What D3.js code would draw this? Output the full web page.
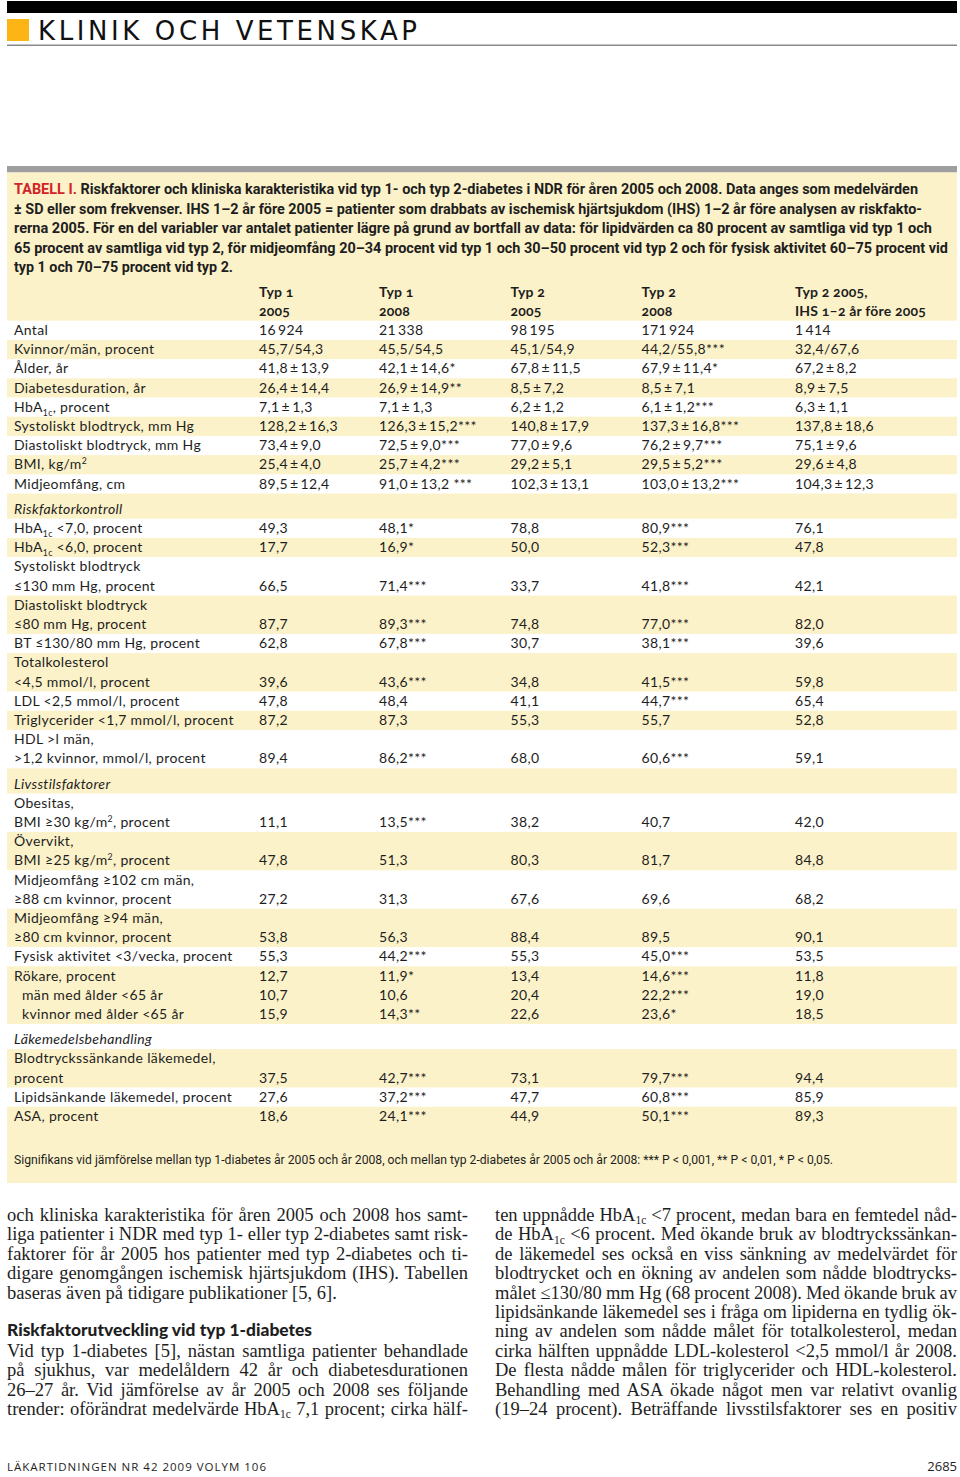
<!DOCTYPE html>
<html><head><meta charset="utf-8">
<script src="https://cdn.jsdelivr.net/npm/d3@7"></script>
<style>body{margin:0;background:#fff} svg{display:block}</style>
</head><body>
<svg id="page" width="960" height="1477"></svg>
<script>
// ---------------- DATA ----------------
const pageTitle = "KLINIK OCH VETENSKAP";
const captionLines = [
  "Riskfaktorer och kliniska karakteristika vid typ 1- och typ 2-diabetes i NDR för åren 2005 och 2008. Data anges som medelvärden",
  "± SD eller som frekvenser. IHS 1–2 år före 2005 = patienter som drabbats av ischemisk hjärtsjukdom (IHS) 1–2 år före analysen av riskfakto-",
  "rerna 2005. För en del variabler var antalet patienter lägre på grund av bortfall av data: för lipidvärden ca 80 procent av samtliga vid typ 1 och",
  "65 procent av samtliga vid typ 2, för midjeomfång 20–34 procent vid typ 1 och 30–50 procent vid typ 2 och för fysisk aktivitet 60–75 procent vid",
  "typ 1 och 70–75 procent vid typ 2."
];
const captionTag = "TABELL I.";
const colHeads = [["Typ 1","2005"],["Typ 1","2008"],["Typ 2","2005"],["Typ 2","2008"],["Typ 2 2005,","IHS 1–2 år före 2005"]];
const T = "\u2009±\u2009";
const rowLabels = [
  "Antal","Kvinnor/män, procent","Ålder, år","Diabetesduration, år","HbA_{1c}, procent",
  "Systoliskt blodtryck, mm Hg","Diastoliskt blodtryck, mm Hg","BMI, kg/m^{2}","Midjeomfång, cm",
  "Riskfaktorkontroll",
  "HbA_{1c} <7,0, procent","HbA_{1c} <6,0, procent","Systoliskt blodtryck\n≤130 mm Hg, procent",
  "Diastoliskt blodtryck\n≤80 mm Hg, procent","BT ≤130/80 mm Hg, procent","Totalkolesterol\n<4,5 mmol/l, procent",
  "LDL <2,5 mmol/l, procent","Triglycerider <1,7 mmol/l, procent","HDL >l män,\n>1,2 kvinnor, mmol/l, procent",
  "Livsstilsfaktorer",
  "Obesitas,\nBMI ≥30 kg/m^{2}, procent","Övervikt,\nBMI ≥25 kg/m^{2}, procent","Midjeomfång ≥102 cm män,\n≥88 cm kvinnor, procent",
  "Midjeomfång ≥94 män,\n≥80 cm kvinnor, procent","Fysisk aktivitet <3/vecka, procent","Rökare, procent",
  "  män med ålder <65 år","  kvinnor med ålder <65 år",
  "Läkemedelsbehandling",
  "Blodtryckssänkande läkemedel,\nprocent","Lipidsänkande läkemedel, procent","ASA, procent"
];
const typ1_2005 = ["16\u2009924","45,7/54,3","41,8"+T+"13,9","26,4"+T+"14,4","7,1"+T+"1,3","128,2"+T+"16,3","73,4"+T+"9,0","25,4"+T+"4,0","89,5"+T+"12,4",
  null,"49,3","17,7","66,5","87,7","62,8","39,6","47,8","87,2","89,4",
  null,"11,1","47,8","27,2","53,8","55,3","12,7","10,7","15,9",
  null,"37,5","27,6","18,6"];
const typ1_2008 = ["21\u2009338","45,5/54,5","42,1"+T+"14,6*","26,9"+T+"14,9**","7,1"+T+"1,3","126,3"+T+"15,2***","72,5"+T+"9,0***","25,7"+T+"4,2***","91,0"+T+"13,2 ***",
  null,"48,1*","16,9*","71,4***","89,3***","67,8***","43,6***","48,4","87,3","86,2***",
  null,"13,5***","51,3","31,3","56,3","44,2***","11,9*","10,6","14,3**",
  null,"42,7***","37,2***","24,1***"];
const typ2_2005 = ["98\u2009195","45,1/54,9","67,8"+T+"11,5","8,5"+T+"7,2","6,2"+T+"1,2","140,8"+T+"17,9","77,0"+T+"9,6","29,2"+T+"5,1","102,3"+T+"13,1",
  null,"78,8","50,0","33,7","74,8","30,7","34,8","41,1","55,3","68,0",
  null,"38,2","80,3","67,6","88,4","55,3","13,4","20,4","22,6",
  null,"73,1","47,7","44,9"];
const typ2_2008 = ["171\u2009924","44,2/55,8***","67,9"+T+"11,4*","8,5"+T+"7,1","6,1"+T+"1,2***","137,3"+T+"16,8***","76,2"+T+"9,7***","29,5"+T+"5,2***","103,0"+T+"13,2***",
  null,"80,9***","52,3***","41,8***","77,0***","38,1***","41,5***","44,7***","55,7","60,6***",
  null,"40,7","81,7","69,6","89,5","45,0***","14,6***","22,2***","23,6*",
  null,"79,7***","60,8***","50,1***"];
const ihs2005 = ["1\u2009414","32,4/67,6","67,2"+T+"8,2","8,9"+T+"7,5","6,3"+T+"1,1","137,8"+T+"18,6","75,1"+T+"9,6","29,6"+T+"4,8","104,3"+T+"12,3",
  null,"76,1","47,8","42,1","82,0","39,6","59,8","65,4","52,8","59,1",
  null,"42,0","84,8","68,2","90,1","53,5","11,8","19,0","18,5",
  null,"94,4","85,9","89,3"];
const footnote = "Signifikans vid jämförelse mellan typ 1-diabetes år 2005 och år 2008, och mellan typ 2-diabetes år 2005 och år 2008: *** P < 0,001, ** P < 0,01, * P < 0,05.";
const bodyLeft = [
  "och kliniska karakteristika för åren 2005 och 2008 hos samt-",
  "liga patienter i NDR med typ 1- eller typ 2-diabetes samt risk-",
  "faktorer för år 2005 hos patienter med typ 2-diabetes och ti-",
  "digare genomgången ischemisk hjärtsjukdom (IHS). Tabellen",
  "baseras även på tidigare publikationer [5, 6].",
  "",
  "",
  "Vid typ 1-diabetes [5], nästan samtliga patienter behandlade",
  "på sjukhus, var medelåldern 42 år och diabetesdurationen",
  "26–27 år. Vid jämförelse av år 2005 och 2008 ses följande",
  "trender: oförändrat medelvärde HbA_{1c} 7,1 procent; cirka hälf-"
];
const bodyHeading = "Riskfaktorutveckling vid typ 1-diabetes";
const bodyRight = [
  "ten uppnådde HbA_{1c} <7 procent, medan bara en femtedel nåd-",
  "de HbA_{1c} <6 procent. Med ökande bruk av blodtryckssänkan-",
  "de läkemedel ses också en viss sänkning av medelvärdet för",
  "blodtrycket och en ökning av andelen som nådde blodtrycks-",
  "målet ≤130/80 mm Hg (68 procent 2008). Med ökande bruk av",
  "lipidsänkande läkemedel ses i fråga om lipiderna en tydlig ök-",
  "ning av andelen som nådde målet för totalkolesterol, medan",
  "cirka hälften uppnådde LDL-kolesterol <2,5 mmol/l år 2008.",
  "De flesta nådde målen för triglycerider och HDL-kolesterol.",
  "Behandling med ASA ökade något men var relativt ovanlig",
  "(19–24 procent). Beträffande livsstilsfaktorer ses en positiv"
];
const footerLeft = "LÄKARTIDNINGEN NR 42 2009 VOLYM 106";
const footerRight = "2685";

// ---------------- DRAW ----------------
const svg = d3.select("#page");
const L = 7, R = 957;
const YEL = "#FCF2C9", INK = "#1e1e1e";
const SANS = "Lato, 'Open Sans', sans-serif";

function rich(sel, str, size, subShift) {
  const re = /([_^])\{([^}]*)\}/g;
  let last = 0, m, shift = 0;
  const parts = [];
  while ((m = re.exec(str))) {
    if (m.index > last) parts.push({t: str.slice(last, m.index), k: ""});
    parts.push({t: m[2], k: m[1]});
    last = re.lastIndex;
  }
  if (last < str.length) parts.push({t: str.slice(last), k: ""});
  parts.forEach(p => {
    const ts = sel.append("tspan").text(p.t);
    const target = p.k === "_" ? size * (subShift || 0.3) : p.k === "^" ? -size * 0.38 : 0;
    if (target !== shift) { ts.attr("dy", target - shift); shift = target; }
    if (p.k) ts.attr("font-size", size * 0.62);
  });
  return sel;
}

// masthead
svg.append("rect").attr("x", L).attr("y", 1).attr("width", R - L).attr("height", 12).attr("fill", "#000");
svg.append("rect").attr("x", 7).attr("y", 19).attr("width", 22).attr("height", 22).attr("fill", "#FDB515");
svg.append("text").attr("x", 38).attr("y", 40)
  .attr("font-family", "'DejaVu Sans', sans-serif").attr("font-size", 26).attr("fill", "#111")
  .attr("textLength", 379).attr("lengthAdjust", "spacing").text(pageTitle);
svg.append("rect").attr("x", L).attr("y", 44.5).attr("width", R - L).attr("height", 1.5).attr("fill", "#8a8a8a");

// table box
svg.append("rect").attr("x", L).attr("y", 166).attr("width", R - L).attr("height", 6.5).attr("fill", "#9e9e9e");
svg.append("rect").attr("x", L).attr("y", 172.5).attr("width", R - L).attr("height", 1183 - 172.5).attr("fill", YEL);

// caption
const capWidths = [904, 908, 918, 934, 219];
captionLines.forEach((line, i) => {
  const t = svg.append("text").attr("x", 14).attr("y", 194 + i * 19.5)
    .attr("font-family", "Roboto, sans-serif").attr("font-weight", 700).attr("font-size", 14.5)
    .attr("fill", INK).attr("textLength", capWidths[i]).attr("lengthAdjust", "spacingAndGlyphs");
  if (i === 0) {
    t.append("tspan").attr("fill", "#D2232A").text(captionTag + " ");
    t.append("tspan").text(line);
  } else t.text(line);
});

// rows layout
const LH = 19.2, SECT = 6;
const cols = [typ1_2005, typ1_2008, typ2_2005, typ2_2008, ihs2005];
const colKeys = ["t1_05", "t1_08", "t2_05", "t2_08", "ihs"];
const x = d3.scaleOrdinal().domain(colKeys).range([259, 379, 510.5, 641.5, 795]);
let yCur = 320.7, group = -1;
const rows = rowLabels.map((lab, i) => {
  const indent = /^\s+/.test(lab);
  if (!indent) group++;
  const section = cols.every(c => c[i] === null);
  const lines = lab.trim().split("\n");
  const h = lines.length * LH + (section ? SECT : 0);
  const r = {i, lines, indent, section, group, top: yCur, h, pad: section ? SECT : 0};
  yCur += h;
  return r;
});

// white stripes per group
const groups = d3.groups(rows, d => d.group);
svg.append("g").selectAll("rect").data(groups.filter(g => g[0] % 2 === 0)).join("rect")
  .attr("x", L).attr("width", R - L)
  .attr("y", g => g[1][0].top)
  .attr("height", g => d3.sum(g[1], r => r.h))
  .attr("fill", "#fff");

// column headers
const hdr = svg.append("g").attr("font-family", SANS).attr("font-weight", 700).attr("font-size", 14)
  .attr("fill", INK).style("font-variant-numeric", "oldstyle-nums").style("letter-spacing", "0.2px");
colKeys.forEach((k, ci) => {
  colHeads[ci].forEach((h, j) => {
    hdr.append("text").attr("x", x(k)).attr("y", 320.7 - (2 - j) * LH + 14.3).text(h);
  });
});

// labels & values
const body = svg.append("g").attr("font-family", SANS).attr("font-size", 14).attr("fill", INK)
  .style("letter-spacing", "0.35px");
rows.forEach(r => {
  r.lines.forEach((ln, j) => {
    const t = body.append("text").attr("x", 14 + (r.indent ? 8 : 0))
      .attr("y", r.top + r.pad + j * LH + 14.3);
    if (r.section) t.attr("font-style", "italic");
    rich(t, ln, 14);
  });
  const yb = r.top + r.pad + (r.lines.length - 1) * LH + 14.3;
  colKeys.forEach((k, ci) => {
    const v = cols[ci][r.i];
    if (v !== null) body.append("text").attr("x", x(k)).attr("y", yb).text(v);
  });
});

// footnote
svg.append("text").attr("x", 14).attr("y", 1164)
  .attr("font-family", "Roboto, sans-serif").attr("font-size", 12).attr("fill", INK)
  .attr("textLength", 819).attr("lengthAdjust", "spacingAndGlyphs").text(footnote);

// body text
function justify(sel, target) {
  const n = sel.node();
  const w = n.getComputedTextLength();
  const sp = (n.textContent.match(/ /g) || []).length;
  if (sp) sel.style("word-spacing", ((target - w) / sp) + "px");
}
const PITCH = 19.4, B0 = 1221, BFS = 18.5;
function column(lines, x0, width) {
  lines.forEach((ln, k) => {
    if (!ln) return;
    const t = svg.append("text").attr("x", x0).attr("y", B0 + k * PITCH)
      .attr("font-family", "'Liberation Serif', serif").attr("font-size", BFS).attr("fill", INK);
    rich(t, ln, BFS, 0.18);
    const isLast = k === lines.length - 1 ? false : !lines[k + 1];
    if (!isLast) justify(t, width);
  });
}
column(bodyLeft, 7, 461);
column(bodyRight, 495, 462);
svg.append("text").attr("x", 7).attr("y", B0 + 6 * PITCH - 1)
  .attr("font-family", "Lato, sans-serif").attr("font-weight", 900).attr("font-size", 16.5).attr("fill", INK)
  .attr("textLength", 305).attr("lengthAdjust", "spacingAndGlyphs").text(bodyHeading);

// footer
svg.append("text").attr("x", 7).attr("y", 1471)
  .attr("font-family", "'Open Sans', sans-serif").attr("font-size", 11.5).attr("fill", INK)
  .attr("textLength", 259).attr("lengthAdjust", "spacing").text(footerLeft);
svg.append("text").attr("x", 957).attr("y", 1471).attr("text-anchor", "end")
  .attr("font-family", "'Open Sans', sans-serif").attr("font-size", 13).attr("fill", INK).text(footerRight);
</script>
</body></html>
